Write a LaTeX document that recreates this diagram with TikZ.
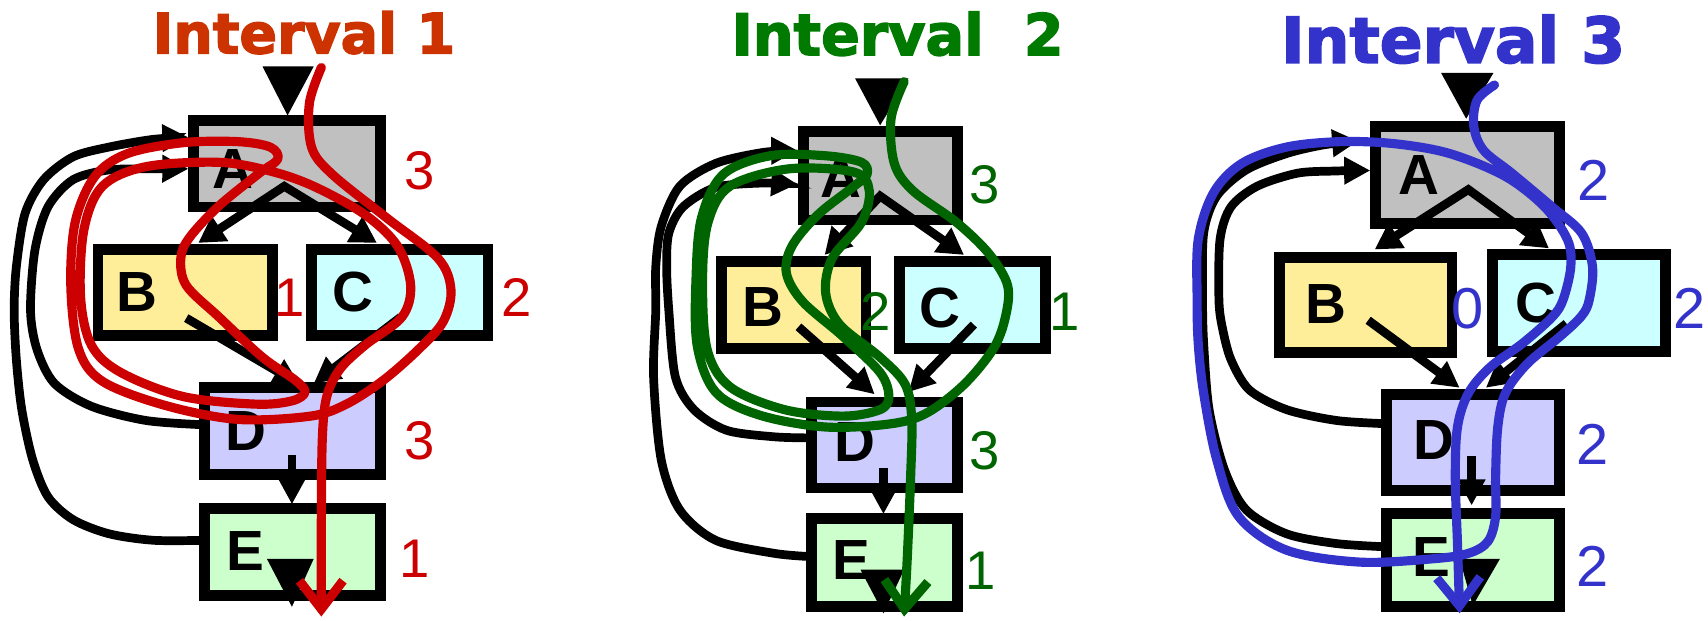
\documentclass[tikz,border=0pt]{standalone}
\usepackage{fontspec}
\setmainfont{Liberation Sans}
\newfontfamily\ttlfam{DejaVu Sans Bold}[FakeBold=2.5]
\usetikzlibrary{arrows.meta,calc}
\definecolor{cA}{HTML}{C0C0C0}
\definecolor{cB}{HTML}{FFEE99}
\definecolor{cC}{HTML}{CCFFFF}
\definecolor{cD}{HTML}{CCCCFF}
\definecolor{cE}{HTML}{CCFFCC}
\definecolor{tOne}{HTML}{CC3300}
\definecolor{rOne}{HTML}{CC0000}
\definecolor{tTwo}{HTML}{007A00}
\definecolor{gTwo}{HTML}{006400}
\definecolor{bThree}{HTML}{3333CC}
\begin{document}
\begin{tikzpicture}[x=0.5pt,y=-0.5pt,
  bx/.style={draw=black,line width=5pt,inner sep=0pt,outer sep=0pt},
  ltr/.style={inner sep=0pt,font=\fontsize{26}{26}\selectfont\bfseries},
  num/.style={inner sep=0pt,font=\fontsize{#1}{#1}\selectfont},
  ttl/.style={inner sep=0pt,font=\ttlfam\fontsize{#1}{#1}\selectfont},
  con/.style={draw=black,line width=4pt},
  arr/.style={con,-{Triangle[length=12pt,width=12pt]}},
  dblarr/.style={con,line join=miter,{Triangle[length=12pt,width=13pt]}-{Triangle[length=12pt,width=13pt]}},
  scr/.style={line width=4.2pt,line cap=round,line join=round,-{Straight Barb[length=13pt,width=20pt]}},
]
\useasboundingbox (0,0) rectangle (1568,570);

% ================= Panel 1 =================
\node[ttl=25.5,text=tOne] (T1) at (279,30) {Interval 1};
\node[bx,fill=cA,minimum width=85.5pt,minimum height=39.5pt] (A1) at (263.5,150.5) {};
\node[bx,fill=cB,minimum width=80pt,minimum height=39.5pt] (B1) at (170,268.5) {};
\node[bx,fill=cC,minimum width=81pt,minimum height=39.5pt] (C1) at (367,268.5) {};
\node[bx,fill=cD,minimum width=80.5pt,minimum height=40pt] (D1) at (268.5,396) {};
\node[bx,fill=cE,minimum width=80.5pt,minimum height=40pt] (E1) at (268.5,507) {};
\node[ltr] (A1t) at (214,155) {A};
\node[ltr] (B1t) at (126,268) {B};
\node[ltr] (C1t) at (324,268) {C};
\node[ltr] (D1t) at (226,396) {D};
\node[ltr] (E1t) at (225,506) {E};
% back edges
\coordinate (e1b) at ($(E1.west)+(0,-11)$);
\coordinate (a1u) at ($(A1.west)+(-5,-24.5)$);
\coordinate (d1b) at ($(D1.west)+(0,-6)$);
\coordinate (a1l) at ($(A1.west)+(-5,4.5)$);
\draw[arr] plot[smooth] coordinates {(e1b) (141,496) (100,490) (67,477) (44,456) (30,422) (20,376) (15,330) (13,285) (15,245) (23,196) (40,165) (67,144) (100,135) (140,128) (a1u)};
\draw[arr] plot[smooth] coordinates {(d1b) (134,386) (84,373) (50,352) (34,321) (28,285) (32,230) (44,190) (67,165) (100,156) (140,155) (a1l)};
% internal edges
\coordinate (ap1) at (261,171);
\coordinate (bt1) at (182,223);
\coordinate (ct1) at (346,223);
\draw[dblarr] (bt1) -- (ap1) -- (ct1);
\coordinate (bs1) at (171,292);
\coordinate (cs1) at (368,291);
\coordinate (dt1a) at (275,353);
\coordinate (dt1b) at (288,352);
\draw[arr] (bs1) -- (dt1a);
\draw[arr] (cs1) -- (dt1b);
\coordinate (ds1) at (268,418);
\coordinate (et1) at (268,463);
\draw[arr] (ds1) -- (et1);
\fill (241,61) -- (288,61) -- (264,106) -- cycle;
\fill (245,513) -- (288,513) -- (268,557) -- cycle;
% numbers
\node[num=25,text=rOne] (nA1) at (385,157) {3};
\node[num=25,text=rOne] (nB1) at (266,273) {1};
\node[num=25,text=rOne] (nC1) at (474,273) {2};
\node[num=25,text=rOne] (nD1) at (385,405) {3};
\node[num=25,text=rOne] (nE1) at (381,513) {1};
% scribble
\draw[scr,draw=rOne] plot[smooth,tension=0.55] coordinates {(295,62) (284,95) (286,135) (305,160) (355,200) (402,237) (414,266) (407,295) (385,320) (352,349) (318,371) (285,382) (218,385) (151,372) (94,350) (72,320) (65,262) (69,204) (87,162) (117,141) (168,131) (218,130) (248,135) (255,146) (238,159) (201,189) (174,218) (166,237) (171,262) (201,291) (241,328) (271,349) (280,360) (268,368) (235,371) (168,364) (111,342) (84,317) (74,273) (77,211) (94,171) (134,153) (201,149) (248,157) (288,171) (335,197) (365,226) (377,262) (369,291) (335,317) (312,339) (300,364) (296,400) (295,473) (295,566)};

% ================= Panel 2 =================
\node[ttl=26.3,text=tTwo] (T2) at (824,31) {Interval~~2};
\node[bx,fill=cA,minimum width=70.5pt,minimum height=40.5pt] (A2) at (808.5,161.5) {};
\node[bx,fill=cB,minimum width=66.5pt,minimum height=40pt] (B2) at (728.5,280) {};
\node[bx,fill=cC,minimum width=67pt,minimum height=40pt] (C2) at (893,280) {};
\node[bx,fill=cD,minimum width=67pt,minimum height=39.5pt] (D2) at (812,408.5) {};
\node[bx,fill=cE,minimum width=67pt,minimum height=40.5pt] (E2) at (812,516.5) {};
\node[ltr] (A2t) at (772,163) {A};
\node[ltr] (B2t) at (700,282) {B};
\node[ltr] (C2t) at (863,283) {C};
\node[ltr] (D2t) at (785,406) {D};
\node[ltr] (E2t) at (782,514) {E};
\coordinate (e2b) at ($(E2.west)+(0,-5.5)$);
\coordinate (a2u) at ($(A2.west)+(-6,-23.5)$);
\coordinate (d2b) at ($(D2.west)+(0,-6.5)$);
\coordinate (a2l) at ($(A2.west)+(-6,7.5)$);
\draw[arr] plot[smooth] coordinates {(e2b) (711,508) (657,496) (624,468) (607,422) (600,346) (602,285) (602,245) (607,208) (624,171) (657,150) (700,140) (a2u)};
\draw[arr] plot[smooth] coordinates {(d2b) (711,401) (667,395) (637,376) (620,346) (614,285) (612,245) (614,214) (627,190) (657,172) (700,168) (a2l)};
\coordinate (ap2) at (808,180);
\coordinate (bt2) at (757,234);
\coordinate (ct2) at (885,234);
\draw[dblarr] (bt2) -- (ap2) -- (ct2);
\coordinate (bs2) at (733,300);
\coordinate (cs2) at (894,298);
\coordinate (dt2a) at (803,362);
\coordinate (dt2b) at (834,360);
\draw[arr] (bs2) -- (dt2a);
\draw[arr] (cs2) -- (dt2b);
\coordinate (ds2) at (811,430);
\coordinate (et2) at (811,472);
\draw[arr] (ds2) -- (et2);
\fill (785,72) -- (834,72) -- (808,115) -- cycle;
\fill (790,523) -- (830,523) -- (811,563) -- cycle;
\node[num=25,text=gTwo] (nA2) at (904,170) {3};
\node[num=25,text=gTwo] (nB2) at (804,286) {2};
\node[num=25,text=gTwo] (nC2) at (977,286) {1};
\node[num=25,text=gTwo] (nD2) at (904,414) {3};
\node[num=25,text=gTwo] (nE2) at (900,524) {1};
\draw[scr,draw=gTwo] plot[smooth,tension=0.55] coordinates {(830,75) (818,109) (821,150) (838,175) (878,204) (908,233) (925,262) (923,291) (912,320) (885,353) (851,379) (818,389) (758,392) (697,381) (657,360) (640,317) (639,255) (644,200) (664,160) (707,143) (758,143) (791,149) (796,160) (784,171) (751,197) (727,226) (722,251) (737,277) (774,309) (808,342) (816,364) (808,376) (774,382) (720,376) (670,355) (649,320) (645,255) (650,204) (670,171) (724,155) (784,158) (798,175) (791,204) (764,237) (758,269) (771,298) (808,328) (831,353) (837,385) (836,437) (833,510) (830,566)};

% ================= Panel 3 =================
\node[ttl=29,text=bThree] (T3) at (1334,36) {Interval 3};
\node[bx,fill=cA,minimum width=84.5pt,minimum height=44.5pt] (A3) at (1347.5,160.5) {};
\node[bx,fill=cB,minimum width=79pt,minimum height=44pt] (B3) at (1254,280) {};
\node[bx,fill=cC,minimum width=79.5pt,minimum height=44.5pt] (C3) at (1449.5,278.5) {};
\node[bx,fill=cD,minimum width=79.5pt,minimum height=44pt] (D3) at (1352.5,406) {};
\node[bx,fill=cE,minimum width=79.5pt,minimum height=43pt] (E3) at (1352.5,514) {};
\node[ltr] (A3t) at (1303,161) {A};
\node[ltr] (B3t) at (1217,279) {B};
\node[ltr] (C3t) at (1410,278) {C};
\node[ltr] (D3t) at (1316,404) {D};
\node[ltr] (E3t) at (1314,511) {E};
\coordinate (e3b) at ($(E3.west)+(0,-12)$);
\coordinate (a3u) at ($(A3.west)+(-16,-31)$);
\coordinate (d3b) at ($(D3.west)+(0,-17)$);
\coordinate (a3l) at ($(A3.west)+(-5,-4)$);
\draw[arr] plot[smooth] coordinates {(e3b) (1227,499) (1181,490) (1144,468) (1124,431) (1110,376) (1105,315) (1104,275) (1105,214) (1117,180) (1144,156) (1181,141) (1215,133) (a3u)};
\draw[arr] plot[smooth] coordinates {(d3b) (1227,386) (1181,376) (1147,358) (1130,330) (1122,300) (1119,275) (1120,220) (1130,190) (1154,171) (1191,159) (1225,157) (a3l)};
\coordinate (ap3) at (1348,174);
\coordinate (bt3) at (1262,229);
\coordinate (ct3) at (1422,228);
\draw[dblarr] (bt3) -- (ap3) -- (ct3);
\coordinate (bs3) at (1256,294);
\coordinate (cs3) at (1438,297);
\coordinate (dt3a) at (1340,356);
\coordinate (dt3b) at (1364,356);
\draw[arr] (bs3) -- (dt3a);
\draw[arr] (cs3) -- (dt3b);
\coordinate (ds3) at (1351,419);
\coordinate (et3) at (1351,464);
\draw[arr] (ds3) -- (et3);
\fill (1323,67) -- (1371,67) -- (1346,109) -- cycle;
\fill (1340,513) -- (1377,513) -- (1352,556) -- cycle;
\node[num=26.5,text=bThree] (nA3) at (1463,166) {2};
\node[num=26.5,text=bThree] (nB3) at (1347,283) {0};
\node[num=26.5,text=bThree] (nC3) at (1551,283) {2};
\node[num=26.5,text=bThree] (nD3) at (1462,408) {2};
\node[num=26.5,text=bThree] (nE3) at (1462,520) {2};
\draw[scr,draw=bThree] plot[smooth,tension=0.55] coordinates {(1372,78) (1356,92) (1353,116) (1362,138) (1388,159) (1425,190) (1452,214) (1462,245) (1459,275) (1452,290) (1432,309) (1402,334) (1382,361) (1375,392) (1373,438) (1373,474) (1366,497) (1348,508) (1315,513) (1248,516) (1181,505) (1137,474) (1117,422) (1105,361) (1100,315) (1099,275) (1100,220) (1114,177) (1140,150) (1181,135) (1231,130) (1281,132) (1331,141) (1382,162) (1418,190) (1439,220) (1442,245) (1435,275) (1425,291) (1398,315) (1368,337) (1348,361) (1338,392) (1336,438) (1338,499) (1340,563)};
\end{tikzpicture}
\end{document}
